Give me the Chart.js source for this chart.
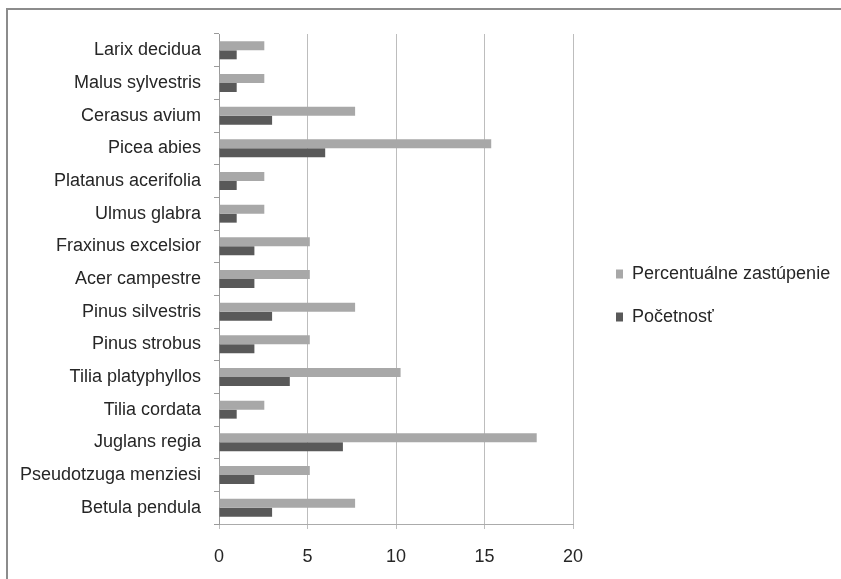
<!DOCTYPE html>
<html>
<head>
<meta charset="utf-8">
<script src="https://cdn.jsdelivr.net/npm/chart.js@4.4.1/dist/chart.umd.min.js"></script>
<style>
  html, body { margin: 0; padding: 0; background: #fff; overflow: hidden; }
  #wrap { position: relative; width: 841px; height: 579px; overflow: hidden; background: #fff; }
  #frame {
    position: absolute; left: 6px; top: 8px; width: 1000px; height: 1000px;
    border-left: 2px solid #8c8c8c; border-top: 2px solid #8c8c8c;
  }
  #c { position: absolute; left: 0; top: 0; }
</style>
</head>
<body>
<div id="wrap">
  <div id="frame"></div>
  <canvas id="c" width="841" height="579"></canvas>
</div>
<script>
// Tree species, top to bottom
const species = [
  'Larix decidua', 'Malus sylvestris', 'Cerasus avium', 'Picea abies',
  'Platanus acerifolia', 'Ulmus glabra', 'Fraxinus excelsior', 'Acer campestre',
  'Pinus silvestris', 'Pinus strobus', 'Tilia platyphyllos', 'Tilia cordata',
  'Juglans regia', 'Pseudotzuga menziesi', 'Betula pendula'
];
// Share of each species (%)
const percentValues = [2.56, 2.56, 7.69, 15.38, 2.56, 2.56, 5.13, 5.13, 7.69, 5.13, 10.26, 2.56, 17.95, 5.13, 7.69];
// Number of trees
const countValues = [1, 1, 3, 6, 1, 1, 2, 2, 3, 2, 4, 1, 7, 2, 3];
// Value axis ticks
const xTicks = [0, 5, 10, 15, 20];

const seriesNames = ['Percentuálne zastúpenie', 'Početnosť'];

const FONT = "'Liberation Sans', Arial, sans-serif";
const TEXT = '#262626';

// Moves the legend block next to the plot and lets it reach the right edge
const legendShift = {
  id: 'legendShift',
  afterLayout(chart) {
    const lg = chart.legend;
    if (!lg) return;
    const dx = 18, dy = -11;
    lg.left += dx;
    lg.right = chart.width;
    lg.width = lg.right - lg.left;
    lg.top += dy; lg.bottom += dy;
  }
};

new Chart(document.getElementById('c'), {
  type: 'bar',
  data: {
    labels: species,
    datasets: [
      {
        label: seriesNames[0],
        data: percentValues,
        backgroundColor: '#a8a8a8',
        categoryPercentage: 0.55,
        barPercentage: 1
      },
      {
        label: seriesNames[1],
        data: countValues,
        backgroundColor: '#595959',
        categoryPercentage: 0.55,
        barPercentage: 1
      }
    ]
  },
  options: {
    indexAxis: 'y',
    responsive: false,
    animation: false,
    devicePixelRatio: 1,
    layout: { padding: { top: 34, left: 0, right: 0, bottom: 0 } },
    plugins: {
      tooltip: { enabled: false },
      legend: {
        position: 'right',
        align: 'center',
        labels: {
          boxWidth: 7,
          boxHeight: 9,
          padding: 25,
          color: TEXT,
          font: { family: FONT, size: 18 }
        }
      }
    },
    scales: {
      x: {
        min: 0,
        max: 20,
        afterBuildTicks(scale) { scale.ticks = xTicks.map(v => ({ value: v })); },
        afterFit(scale) { scale.height = 55; scale.paddingRight = 268; },
        grid: { color: '#bdbdbd', lineWidth: 1, tickLength: 5, drawTicks: true },
        border: { display: true, color: '#ababab', width: 1 },
        ticks: { padding: 17, color: TEXT, font: { family: FONT, size: 18 } }
      },
      y: {
        afterFit(scale) { scale.width = 219; },
        grid: { offset: true, drawOnChartArea: false, drawTicks: true, tickLength: 5, color: '#9a9a9a' },
        border: { display: true, color: '#9a9a9a', width: 1 },
        ticks: { padding: 13, color: TEXT, autoSkip: false, font: { family: FONT, size: 18 } }
      }
    }
  },
  plugins: [legendShift]
});
</script>
</body>
</html>
